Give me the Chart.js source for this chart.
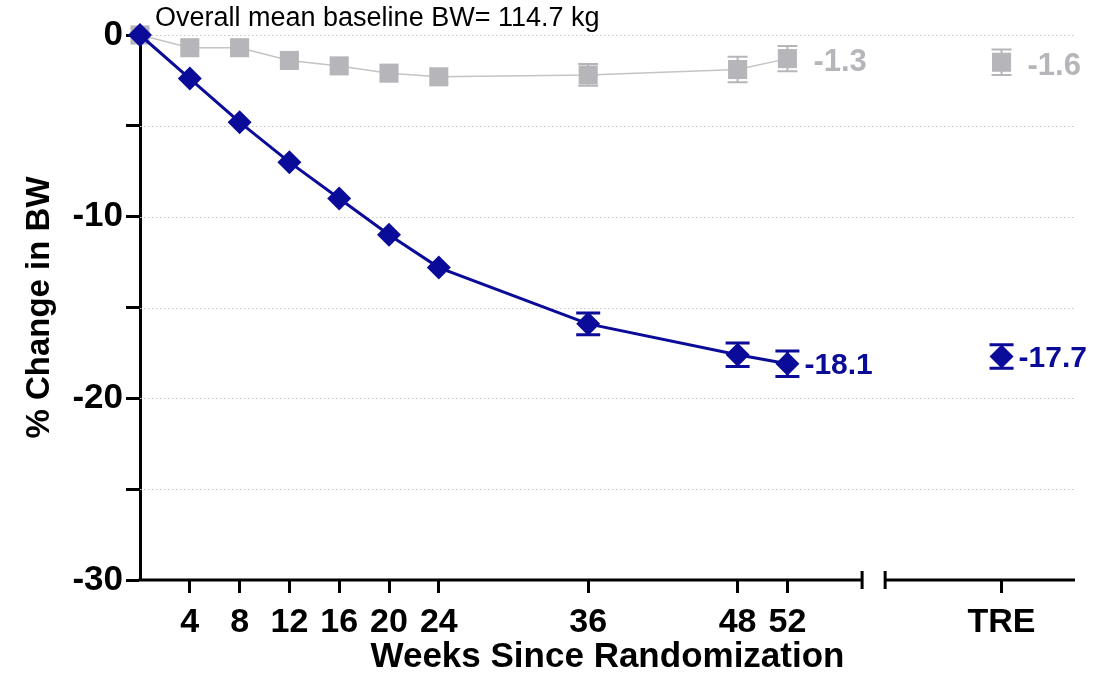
<!DOCTYPE html>
<html>
<head>
<meta charset="utf-8">
<script src="https://cdn.jsdelivr.net/npm/chart.js@4.4.0/dist/chart.umd.min.js"></script>
<style>
  html, body { margin: 0; padding: 0; background: #fff; }
  canvas { display: block; }
</style>
</head>
<body>
<canvas id="bwChart" width="1116" height="685"></canvas>
<script>
// data
const weeks = [0, 4, 8, 12, 16, 20, 24, 36, 48, 52];
const drugMean = [0, -2.4, -4.8, -7.0, -9.0, -11.0, -12.8, -15.9, -17.6, -18.1];
// early error bars are hidden inside the symbols in the figure
const drugErr = [0, 0, 0, 0, 0, 0, 0, 0.6, 0.65, 0.7];
const placeboMean = [0, -0.7, -0.7, -1.4, -1.7, -2.1, -2.3, -2.2, -1.9, -1.3];
const placeboErr = [0, 0, 0, 0, 0, 0, 0, 0.6, 0.7, 0.7];
const drugTre = [-17.7];
const drugTreErr = [0.65];
const placeboTre = [-1.5];
const placeboTreErr = [0.7];
const endLabels = ['-18.1', '-17.7', '-1.3', '-1.6'];
const weekTicks = [4, 8, 12, 16, 20, 24, 36, 48, 52];
const treLabel = 'TRE';

// where the TRE group sits on the x scale, and the axis break
const treX = 69.2;
const xMax = 75.1;
const breakFrom = 58, breakTo = 59.85;

const FONT = "'Liberation Sans', Arial, sans-serif";
const BLUE = '#0b0b99';
const GRAY = '#b6b6ba';
const GRAY_LINE = '#c4c4c6';

const xyPairs = (xs, ys) => xs.map((x, i) => ({ x: x, y: ys[i] }));

// dotted grid + broken x axis
const axisPlugin = {
  id: 'axisPlugin',
  beforeDatasetsDraw(chart) {
    const { ctx, chartArea: a, scales: { x, y } } = chart;
    ctx.save();
    ctx.strokeStyle = '#c8c8c8';
    ctx.lineWidth = 1;
    ctx.setLineDash([1.5, 2.5]);
    for (let v = 0; v > -30; v -= 5) {
      const py = Math.round(y.getPixelForValue(v)) + 0.5;
      ctx.beginPath();
      ctx.moveTo(a.left, py);
      ctx.lineTo(a.right, py);
      ctx.stroke();
    }
    ctx.setLineDash([]);
    ctx.strokeStyle = '#000';
    ctx.lineWidth = 3;
    const by = a.bottom;
    const b1 = x.getPixelForValue(breakFrom), b2 = x.getPixelForValue(breakTo);
    ctx.beginPath();
    ctx.moveTo(a.left - 1.5, by); ctx.lineTo(b1, by);
    ctx.moveTo(b2, by); ctx.lineTo(a.right, by);
    ctx.moveTo(b1, by - 9); ctx.lineTo(b1, by + 9);
    ctx.moveTo(b2, by - 9); ctx.lineTo(b2, by + 9);
    ctx.stroke();
    ctx.restore();
  }
};

// error bars under the markers, value labels on top
const errorBarPlugin = {
  id: 'errorBars',
  beforeDatasetsDraw(chart) {
    const { ctx, scales: { y } } = chart;
    chart.data.datasets.forEach((ds, i) => {
      if (!ds.errors) return;
      const meta = chart.getDatasetMeta(i);
      ctx.save();
      ctx.strokeStyle = ds.pointBackgroundColor;
      ctx.lineWidth = ds.errWidth;
      meta.data.forEach((pt, j) => {
        const e = ds.errors[j];
        if (!e) return;
        const v = ds.data[j].y;
        const top = y.getPixelForValue(v + e), bot = y.getPixelForValue(v - e);
        const w = ds.capHalf;
        ctx.beginPath();
        ctx.moveTo(pt.x, top); ctx.lineTo(pt.x, bot);
        ctx.moveTo(pt.x - w, top); ctx.lineTo(pt.x + w, top);
        ctx.moveTo(pt.x - w, bot); ctx.lineTo(pt.x + w, bot);
        ctx.stroke();
      });
      ctx.restore();
    });
  },
  afterDatasetsDraw(chart) {
    const { ctx } = chart;
    chart.data.datasets.forEach((ds, i) => {
      if (!ds.endLabel) return;
      const meta = chart.getDatasetMeta(i);
      const pt = meta.data[meta.data.length - 1];
      ctx.save();
      ctx.fillStyle = ds.labelColor;
      ctx.font = 'bold ' + ds.labelSize + 'px ' + FONT;
      ctx.textBaseline = 'middle';
      ctx.fillText(ds.endLabel, pt.x + ds.labelGap, pt.y + ds.labelDy);
      ctx.restore();
    });
    ctx.save();
    ctx.fillStyle = '#000';
    ctx.font = '27px ' + FONT;
    ctx.textBaseline = 'alphabetic';
    ctx.fillText('Overall mean baseline BW= 114.7 kg', 155, 26);
    ctx.restore();
  }
};

const drugStyle = {
  borderColor: BLUE, backgroundColor: BLUE, pointBackgroundColor: BLUE, pointBorderColor: BLUE,
  pointStyle: 'rectRot', pointRadius: 12, pointBorderWidth: 0, borderWidth: 3,
  errWidth: 3, capHalf: 12, labelColor: BLUE, labelGap: 17, labelDy: 2, labelSize: 30, clip: false
};
const placeboStyle = {
  borderColor: GRAY_LINE, backgroundColor: GRAY, pointBackgroundColor: GRAY, pointBorderColor: GRAY,
  pointStyle: 'rect', pointRadius: 13.5, pointBorderWidth: 0, borderWidth: 1.5,
  errWidth: 2, capHalf: 10, labelColor: GRAY, labelGap: 26, labelDy: 4, labelSize: 31, clip: false
};

new Chart(document.getElementById('bwChart'), {
  type: 'line',
  data: {
    datasets: [
      Object.assign({ label: 'Drug', data: xyPairs(weeks, drugMean), errors: drugErr, endLabel: endLabels[0] }, drugStyle),
      Object.assign({ label: 'Drug TRE', data: xyPairs([treX], drugTre), errors: drugTreErr, endLabel: endLabels[1], showLine: false }, drugStyle),
      Object.assign({ label: 'Placebo', data: xyPairs(weeks, placeboMean), errors: placeboErr, endLabel: endLabels[2] }, placeboStyle),
      Object.assign({ label: 'Placebo TRE', data: xyPairs([treX], placeboTre), errors: placeboTreErr, endLabel: endLabels[3], showLine: false }, placeboStyle)
    ]
  },
  options: {
    responsive: false,
    animation: false,
    layout: { padding: { top: 35, right: 41, left: 0, bottom: 0 } },
    plugins: { legend: { display: false }, tooltip: { enabled: false } },
    elements: { line: { tension: 0 } },
    scales: {
      x: {
        type: 'linear', min: 0, max: xMax,
        afterFit: s => { s.height = 105; },
        afterBuildTicks: s => { s.ticks = weekTicks.concat([treX]).map(v => ({ value: v })); },
        ticks: {
          autoSkip: false, maxRotation: 0, padding: 9, color: '#000',
          font: { family: FONT, size: 34, weight: 'bold' },
          callback: v => (v === treX ? treLabel : String(v))
        },
        grid: { drawOnChartArea: false, tickLength: 13, tickWidth: 3, tickColor: '#000', color: '#000' },
        border: { display: false },
        title: {
          display: true, text: 'Weeks Since Randomization', color: '#000',
          font: { family: FONT, size: 35, weight: 'bold' }, padding: { top: 0, bottom: 7 }
        }
      },
      y: {
        min: -30, max: 0,
        afterFit: s => { s.width = 140; },
        ticks: {
          stepSize: 5, padding: 3, color: '#000',
          font: { family: FONT, size: 35, weight: 'bold' },
          callback: v => (v % 10 === 0 ? String(v) : '')
        },
        grid: { drawOnChartArea: false, tickLength: 14, tickWidth: 3, tickColor: '#000', color: '#000' },
        border: { display: true, color: '#000', width: 3 },
        title: {
          display: true, text: '% Change in BW', color: '#000',
          font: { family: FONT, size: 33, weight: 'bold' }, padding: { top: 20, bottom: 0 }
        }
      }
    }
  },
  plugins: [axisPlugin, errorBarPlugin]
});
</script>
</body>
</html>
